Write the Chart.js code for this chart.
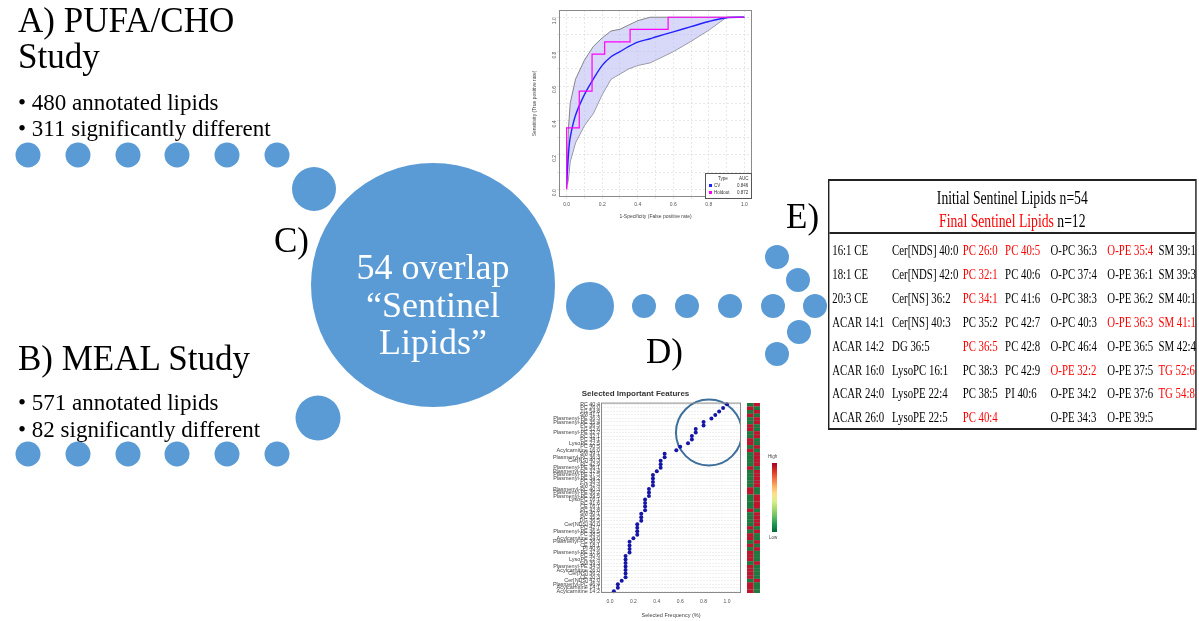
<!DOCTYPE html>
<html>
<head>
<meta charset="utf-8">
<script src="https://cdn.jsdelivr.net/npm/chart.js@4.4.1/dist/chart.umd.min.js"></script>
<style>
  body { margin: 0; width: 1199px; height: 621px; overflow: hidden; background: #fff; position: relative; font-family: "Liberation Serif", "Times New Roman", serif; color: #000; }
  canvas { position: absolute; }
  .t { position: absolute; white-space: nowrap; line-height: 1; }
  .big { font-size: 35px; }
  .bul { font-size: 23px; }
  .center { position: absolute; left: 303px; top: 249px; width: 260px; text-align: center; color: #fff; font-size: 36px; line-height: 37.5px; }
  #table { position: absolute; left: 828px; top: 179px; width: 508px; height: 247px; border: 2px solid #222; transform: scaleX(0.72); transform-origin: 0 0; }
  #table .h { position: absolute; left: 0; width: 100%; text-align: center; font-size: 19px; line-height: 1; }
  #table .rule { position: absolute; left: 0; top: 51px; width: 100%; height: 2px; background: #222; }
  #table .c { position: absolute; font-size: 15px; line-height: 1; white-space: nowrap; }
  .red { color: #f00; }
  .roc-key { position: absolute; left: 705px; top: 173px; width: 45px; height: 24px; background: #fff; border: 1px solid #555; font: 4.5px "Liberation Sans", sans-serif; color: #333; }
  .roc-key div { position: absolute; white-space: nowrap; }
  .roc-key span.sq { display: inline-block; width: 3px; height: 3px; margin-right: 2px; }
  .scale-bar { position: absolute; left: 772px; top: 463px; width: 5px; height: 69px;
    background: linear-gradient(to bottom, #a50026, #d73027, #f46d43, #fdae61, #fee08b, #d9ef8b, #a6d96a, #66bd63, #1a9850, #006837); }
  .tiny { position: absolute; font: 4.5px "Liberation Sans", sans-serif; color: #444; }
</style>
</head>
<body>

<canvas id="flow" width="1199" height="621" style="left:0;top:0"></canvas>
<canvas id="roc" width="228" height="219" style="left:530px;top:3px"></canvas>
<canvas id="features" width="211" height="236" style="left:530px;top:385px"></canvas>
<canvas id="heat" width="20" height="236" style="left:744px;top:385px"></canvas>

<div class="t big" style="left:18px;top:3px">A) PUFA/CHO</div>
<div class="t big" style="left:18px;top:39px">Study</div>
<div class="t bul" id="a1" style="left:18px;top:91px"></div>
<div class="t bul" id="a2" style="left:18px;top:117px"></div>

<div class="t big" style="left:18px;top:341px">B) MEAL Study</div>
<div class="t bul" id="b1" style="left:18px;top:391px"></div>
<div class="t bul" id="b2" style="left:18px;top:418px"></div>

<div class="t big" style="left:274px;top:223px">C)</div>
<div class="t big" style="left:646px;top:334px">D)</div>
<div class="t big" style="left:786px;top:199px">E)</div>

<div class="center">54 overlap<br>“Sentinel<br>Lipids”</div>

<div class="roc-key">
  <div style="left:12px;top:2px">Type</div><div style="left:33px;top:2px">AUC</div>
  <div style="left:3px;top:9px"><span class="sq" style="background:#2222ff"></span>CV</div><div style="left:31px;top:9px">0.846</div>
  <div style="left:3px;top:16px"><span class="sq" style="background:#ff00ff"></span>Holdout</div><div style="left:31px;top:16px">0.872</div>
</div>

<div class="scale-bar"></div>
<div class="tiny" style="left:768px;top:454px">High</div>
<div class="tiny" style="left:769px;top:535px">Low</div>

<div id="table">
  <div class="h" style="top:7px">Initial Sentinel Lipids n=54</div>
  <div class="h" style="top:30px"><span class="red">Final Sentinel Lipids</span> n=12</div>
  <div class="rule"></div>
</div>

<script>
// study summaries
const studyA = ['480 annotated lipids', '311 significantly different'];
const studyB = ['571 annotated lipids', '82 significantly different'];

// ROC: cross-validated mean curve with its band, and the holdout curve
const rocFpr = [0, 0.01, 0.02, 0.05, 0.1, 0.15, 0.2, 0.25, 0.3, 0.35, 0.4, 0.47, 0.5, 0.6, 0.7, 0.8, 0.9, 1.0];
const cvMean = [0.03, 0.20, 0.30, 0.43, 0.55, 0.64, 0.72, 0.77, 0.80, 0.83, 0.855, 0.875, 0.885, 0.915, 0.945, 0.975, 0.997, 1.0];
const cvUpper = [0.03, 0.35, 0.50, 0.64, 0.75, 0.83, 0.88, 0.92, 0.93, 0.955, 0.98, 1.0, 1.0, 1.0, 1.0, 1.0, 1.0, 1.0];
const cvLower = [0.0, 0.06, 0.16, 0.27, 0.37, 0.44, 0.55, 0.64, 0.67, 0.70, 0.72, 0.735, 0.75, 0.80, 0.86, 0.925, 1.0, 1.0];
const holdoutFpr = [0, 0, 0.071, 0.143, 0.214, 0.357, 0.571, 1.0];
const holdoutTpr = [0, 0.357, 0.571, 0.786, 0.857, 0.929, 1.0, 1.0];

// feature selection frequency, top to bottom
const featureNames = [
  'PC 40:4', 'PC 26:0', 'TG 54:8', 'SM 41:1', 'Plasmenyl-PE 36:3', 'Plasmenyl-PE 35:4', 'PC 36:5', 'TG 52:6',
  'Plasmenyl-PE 32:2', 'PC 32:1', 'PC 34:1', 'LysoPE 22:5', 'PC 40:5', 'Acylcarnitine 16:0', 'SM 39:1',
  'Plasmenyl-PC 36:3', 'Cer[NS] 40:3', 'PC 42:9', 'Plasmenyl-PE 36:1', 'Plasmenyl-PC 37:4', 'Plasmenyl-PE 37:5',
  'Plasmenyl-PE 34:2', 'PC 38:3', 'SM 42:4', 'Plasmenyl-PC 40:3', 'Plasmenyl-PE 36:2', 'Plasmenyl-PE 39:5',
  'LysoPC 16:1', 'PC 41:6', 'CE 16:1', 'PC 42:8', 'SM 40:1', 'PC 35:2', 'DG 36:5', 'Cer[NDS] 40:0', 'PC 42:7',
  'Plasmenyl-PE 36:5', 'PC 38:5', 'Acylcarnitine 24:0', 'Plasmenyl-PC 38:3', 'CE 18:1', 'PI 40:6',
  'Plasmenyl-PE 37:6', 'PC 40:6', 'LysoPE 22:4', 'SM 39:3', 'Plasmenyl-PE 34:3', 'Acylcarnitine 26:0',
  'Cer[NS] 36:2', 'CE 20:3', 'Cer[NDS] 42:0', 'Plasmenyl-PC 46:4', 'Acylcarnitine 14:1', 'Acylcarnitine 14:2'
];
const featureFreq = [
  1.0, 0.967, 0.933, 0.9, 0.867, 0.8, 0.8, 0.733, 0.733, 0.7, 0.7, 0.667, 0.6, 0.567,
  0.467, 0.467, 0.433, 0.433, 0.433, 0.4, 0.367, 0.367, 0.367, 0.367, 0.333, 0.333, 0.333,
  0.3, 0.3, 0.3, 0.3, 0.267, 0.267, 0.267, 0.233, 0.233, 0.233, 0.233, 0.2,
  0.167, 0.167, 0.167, 0.167, 0.133, 0.133, 0.133, 0.133, 0.133, 0.133, 0.133, 0.1, 0.067, 0.067, 0.033
];
// group means, 1 = high, 0 = low
const heatGroup1 = [0,1,0,1,0,0,1,1,0,0,1,1,0,1,0,0,0,0,1,0,0,0,0,0,1,1,0,0,0,0,1,0,0,0,0,1,0,1,1,0,1,0,1,1,1,0,1,1,1,1,0,1,1,1];
const heatGroup2 = [1,0,1,0,1,1,0,0,1,1,0,0,1,0,1,1,1,1,0,1,1,1,1,1,0,0,1,1,1,1,0,1,1,1,1,0,1,0,0,1,0,1,0,0,0,1,0,0,0,0,1,0,0,0];

// sentinel lipid table, final ones flagged
const sentinelRows = [
  ['16:1 CE', 'Cer[NDS] 40:0', 'PC 26:0', 'PC 40:5', 'O-PC 36:3', 'O-PE 35:4', 'SM 39:1'],
  ['18:1 CE', 'Cer[NDS] 42:0', 'PC 32:1', 'PC 40:6', 'O-PC 37:4', 'O-PE 36:1', 'SM 39:3'],
  ['20:3 CE', 'Cer[NS] 36:2', 'PC 34:1', 'PC 41:6', 'O-PC 38:3', 'O-PE 36:2', 'SM 40:1'],
  ['ACAR 14:1', 'Cer[NS] 40:3', 'PC 35:2', 'PC 42:7', 'O-PC 40:3', 'O-PE 36:3', 'SM 41:1'],
  ['ACAR 14:2', 'DG 36:5', 'PC 36:5', 'PC 42:8', 'O-PC 46:4', 'O-PE 36:5', 'SM 42:4'],
  ['ACAR 16:0', 'LysoPC 16:1', 'PC 38:3', 'PC 42:9', 'O-PE 32:2', 'O-PE 37:5', 'TG 52:6'],
  ['ACAR 24:0', 'LysoPE 22:4', 'PC 38:5', 'PI 40:6', 'O-PE 34:2', 'O-PE 37:6', 'TG 54:8'],
  ['ACAR 26:0', 'LysoPE 22:5', 'PC 40:4', '', 'O-PE 34:3', 'O-PE 39:5', '']
];
const finalLipids = ['PC 26:0', 'PC 40:5', 'O-PE 35:4', 'PC 32:1', 'PC 34:1', 'O-PE 36:3', 'SM 41:1',
  'PC 36:5', 'O-PE 32:2', 'TG 52:6', 'TG 54:8', 'PC 40:4'];

// ---- text blocks ----
document.getElementById('a1').textContent = '• ' + studyA[0];
document.getElementById('a2').textContent = '• ' + studyA[1];
document.getElementById('b1').textContent = '• ' + studyB[0];
document.getElementById('b2').textContent = '• ' + studyB[1];

const colLeft = [4, 87, 185, 244, 307, 386, 457];
const table = document.getElementById('table');
sentinelRows.forEach((row, i) => {
  row.forEach((name, j) => {
    if (!name) return;
    const cell = document.createElement('div');
    cell.className = 'c' + (finalLipids.includes(name) ? ' red' : '');
    cell.style.left = colLeft[j] + 'px';
    cell.style.top = (62 + 23.9 * i) + 'px';
    cell.textContent = name;
    table.appendChild(cell);
  });
});

// ---- flow of bubbles ----
const blue = '#5b9bd5';
const dotCols = [28, 78, 128, 177, 227, 277];
const bubbles = [];
dotCols.forEach(x => bubbles.push({ x: x, y: 155, r: 12.5 }));
dotCols.forEach(x => bubbles.push({ x: x, y: 454, r: 12.5 }));
bubbles.push({ x: 314, y: 189, r: 22 });
bubbles.push({ x: 318, y: 418, r: 22.5 });
bubbles.push({ x: 433, y: 285, r: 122 });
bubbles.push({ x: 590, y: 306, r: 24 });
[644, 687, 730, 773].forEach(x => bubbles.push({ x: x, y: 306, r: 12 }));
[[777, 257], [798, 280], [815, 306], [799, 332], [777, 354]].forEach(p => bubbles.push({ x: p[0], y: p[1], r: 12 }));

new Chart(document.getElementById('flow'), {
  type: 'bubble',
  data: { datasets: [{ data: bubbles, backgroundColor: blue, borderWidth: 0, hoverRadius: 0, clip: false }] },
  options: {
    responsive: false, animation: false, events: [],
    layout: { padding: 0, autoPadding: false },
    plugins: { legend: { display: false }, tooltip: { enabled: false } },
    scales: {
      x: { type: 'linear', min: 0, max: 1199, display: false },
      y: { type: 'linear', min: 0, max: 621, reverse: true, display: false }
    }
  }
});

// box round the plot area, as R draws it
const frame = {
  id: 'frame',
  afterDraw(chart) {
    const a = chart.chartArea, c = chart.ctx;
    c.save();
    c.strokeStyle = '#8a8a8a';
    c.lineWidth = 1;
    c.strokeRect(a.left + 0.5, a.top + 0.5, a.width - 1, a.height - 1);
    c.restore();
  }
};

const smallFont = { family: 'Liberation Sans', size: 5 };
const pairs = (xs, ys) => xs.map((x, i) => ({ x: x, y: ys[i] }));
const tenths = [0, 0.1, 0.2, 0.3, 0.4, 0.5, 0.6, 0.7, 0.8, 0.9, 1.0];

// ---- ROC ----
new Chart(document.getElementById('roc'), {
  type: 'line',
  data: {
    datasets: [
      { label: 'Holdout', data: pairs(holdoutFpr, holdoutTpr), borderColor: '#ff00ff', borderWidth: 1.2, stepped: 'before', pointRadius: 0, fill: false },
      { label: 'CV', data: pairs(rocFpr, cvMean), borderColor: '#2222ff', borderWidth: 1.4, tension: 0.3, pointRadius: 0, fill: false },
      { label: 'upper', data: pairs(rocFpr, cvUpper), borderColor: '#6a6a6a', borderWidth: 0.8, pointRadius: 0, fill: '+1', backgroundColor: 'rgba(190,190,245,0.6)' },
      { label: 'lower', data: pairs(rocFpr, cvLower), borderColor: '#6a6a6a', borderWidth: 0.8, pointRadius: 0, fill: false }
    ]
  },
  options: {
    responsive: false, animation: false, events: [],
    layout: { padding: { top: 7, right: 6, left: 0, bottom: 0 }, autoPadding: false },
    plugins: { legend: { display: false }, tooltip: { enabled: false } },
    scales: {
      x: {
        type: 'linear', min: -0.043, max: 1.043,
        afterBuildTicks: s => { s.ticks = tenths.map(v => ({ value: v })); },
        afterFit: s => { s.height = 25; },
        ticks: { font: smallFont, color: '#555', padding: 3, maxRotation: 0, callback: v => (Math.round(v * 10) % 2 === 0 ? v.toFixed(1) : '') },
        grid: { color: '#d8d8d8', lineWidth: 0.6, tickLength: 2 },
        border: { display: false, dash: [2, 2] },
        title: { display: true, text: '1-Specificity (False positive rate)', font: smallFont, color: '#444', padding: 2 }
      },
      y: {
        type: 'linear', min: -0.045, max: 1.042,
        afterBuildTicks: s => { s.ticks = tenths.map(v => ({ value: v })); },
        afterFit: s => { s.width = 29; },
        ticks: { font: smallFont, color: '#555', padding: 2, minRotation: 90, maxRotation: 90, callback: v => (Math.round(v * 10) % 2 === 0 ? v.toFixed(1) : '') },
        grid: { color: '#d8d8d8', lineWidth: 0.6, tickLength: 2 },
        border: { display: false, dash: [2, 2] },
        title: { display: true, text: 'Sensitivity (True positive rate)', font: smallFont, color: '#444', padding: 2 }
      }
    }
  },
  plugins: [frame]
});

// ---- selection frequency ----
new Chart(document.getElementById('features'), {
  type: 'scatter',
  data: {
    datasets: [
      { data: featureNames.map((n, i) => ({ x: featureFreq[i], y: n })), backgroundColor: '#1515a8', borderWidth: 0, pointRadius: 2 },
      { data: [{ x: 0.846, y: featureNames[8] }], pointRadius: 33, backgroundColor: 'rgba(0,0,0,0)', borderColor: '#3d6e9c', borderWidth: 2, clip: false }
    ]
  },
  options: {
    responsive: false, animation: false, events: [],
    layout: { padding: 0, autoPadding: false },
    plugins: {
      legend: { display: false }, tooltip: { enabled: false },
      title: { display: true, text: 'Selected Important Features', font: { family: 'Liberation Sans', size: 8 }, color: '#333', padding: { top: 4, bottom: 4 } }
    },
    scales: {
      x: {
        type: 'linear', min: -0.077, max: 1.12,
        afterBuildTicks: s => { s.ticks = [0, 0.2, 0.4, 0.6, 0.8, 1.0].map(v => ({ value: v })); },
        afterFit: s => { s.height = 28; },
        ticks: { font: smallFont, color: '#555', padding: 4, maxRotation: 0, callback: v => v.toFixed(1) },
        grid: { display: false, tickLength: 2 },
        border: { display: false },
        title: { display: true, text: 'Selected Frequency (%)', font: { family: 'Liberation Sans', size: 5.5 }, color: '#444', padding: 2 }
      },
      y: {
        type: 'category', labels: featureNames, offset: true,
        afterFit: s => { s.width = 71; },
        ticks: { autoSkip: false, font: { family: 'Liberation Sans', size: 5.5 }, color: '#444', padding: 1 },
        grid: { color: '#e4e4e4', lineWidth: 0.6, tickLength: 0 },
        border: { display: false, dash: [2, 1] }
      }
    }
  },
  plugins: [frame]
});

// ---- high / low heat columns ----
const heatColor = v => (v ? '#c0142c' : '#1b7a3c');
new Chart(document.getElementById('heat'), {
  type: 'bar',
  data: {
    labels: featureNames,
    datasets: [
      { data: featureNames.map(() => 1), backgroundColor: heatGroup1.map(heatColor), borderColor: 'rgba(60,60,60,0.5)', borderWidth: 0.4 },
      { data: featureNames.map(() => 1), backgroundColor: heatGroup2.map(heatColor), borderColor: 'rgba(60,60,60,0.5)', borderWidth: 0.4 }
    ]
  },
  options: {
    indexAxis: 'y', responsive: false, animation: false, events: [],
    layout: { padding: { top: 18, bottom: 28, left: 3, right: 4 }, autoPadding: false },
    plugins: { legend: { display: false }, tooltip: { enabled: false } },
    datasets: { bar: { barPercentage: 1, categoryPercentage: 1 } },
    scales: {
      x: { stacked: true, min: 0, max: 2, display: false },
      y: { stacked: true, display: false }
    }
  }
});
</script>
</body>
</html>
